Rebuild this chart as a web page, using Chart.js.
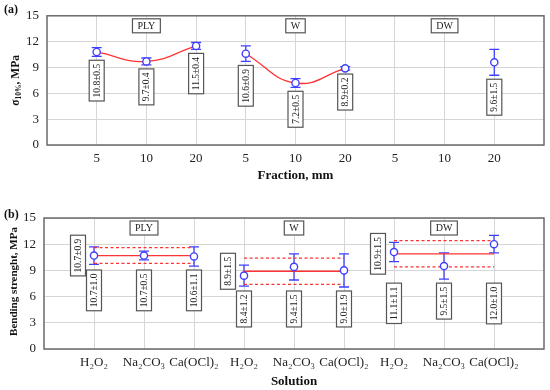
<!DOCTYPE html>
<html>
<head>
<meta charset="utf-8">
<script src="https://cdn.jsdelivr.net/npm/chart.js@4.4.1/dist/chart.umd.min.js"></script>
<style>
  body { margin: 0; background: #fff; }
  .panel { width: 550px; height: 195px; position: relative; }
</style>
</head>
<body>
<div class="panel"><canvas id="chart-a"></canvas></div>
<div class="panel"><canvas id="chart-b"></canvas></div>
<script>
"use strict";

// data
var groupNames = ["PLY", "W", "DW"];
var fractionLabels = ["5", "10", "20", "5", "10", "20", "5", "10", "20"];
var sigmaMean = [10.8, 9.7, 11.5, 10.6, 7.2, 8.9, null, null, 9.6];
var sigmaErr = [0.5, 0.4, 0.4, 0.9, 0.5, 0.2, null, null, 1.5];

var solutionLabels = ["H₂O₂", "Na₂CO₃", "Ca(OCl)₂", "H₂O₂", "Na₂CO₃", "Ca(OCl)₂", "H₂O₂", "Na₂CO₃", "Ca(OCl)₂"];
var bendMean = [10.7, 10.7, 10.6, 8.4, 9.4, 9.0, 11.1, 9.5, 12.0];
var bendErr = [1.0, 0.5, 1.1, 1.2, 1.5, 1.9, 1.1, 1.5, 1.0];
var groupMean = [10.7, 8.9, 10.9];
var groupSd = [0.9, 1.5, 1.5];

var yTicks = [0, 3, 6, 9, 12, 15];

// global
var SERIF = "'Liberation Serif', 'Times New Roman', serif";
Chart.defaults.font.family = SERIF;
Chart.defaults.color = "#333";

var BLUE = "#3f3fff";
var RED = "#ff3333";
var GRID = "#d6d6d6";
var FRAME = "#6a6a6a";

function fmt(m, e) {
  return m.toFixed(1) + "±" + e.toFixed(1);
}

function drawErrorBars(chart, means, errs) {
  var ctx = chart.ctx, xs = chart.scales.x, ys = chart.scales.y;
  ctx.save();
  ctx.strokeStyle = BLUE;
  ctx.lineWidth = 1.3;
  means.forEach(function (m, i) {
    if (m === null) return;
    var x = xs.getPixelForValue(i + 1);
    var top = ys.getPixelForValue(m + errs[i]);
    var bot = ys.getPixelForValue(m - errs[i]);
    ctx.beginPath();
    ctx.moveTo(x, top); ctx.lineTo(x, bot);
    ctx.moveTo(x - 5, top); ctx.lineTo(x + 5, top);
    ctx.moveTo(x - 5, bot); ctx.lineTo(x + 5, bot);
    ctx.stroke();
  });
  ctx.restore();
}

// vertical text in a box, cy = box centre
function vBox(ctx, text, cx, cy) {
  ctx.save();
  ctx.font = "9.5px " + SERIF;
  var w = ctx.measureText(text).width;
  var h = w + 7, bw = 15;
  ctx.fillStyle = "#fff";
  ctx.strokeStyle = "#555";
  ctx.lineWidth = 1.2;
  ctx.fillRect(cx - bw / 2, cy - h / 2, bw, h);
  ctx.strokeRect(cx - bw / 2, cy - h / 2, bw, h);
  ctx.translate(cx, cy);
  ctx.rotate(-Math.PI / 2);
  ctx.fillStyle = "#222";
  ctx.textAlign = "center";
  ctx.textBaseline = "middle";
  ctx.fillText(text, 0, 0.5);
  ctx.restore();
  return h;
}

function boxHeight(ctx, text) {
  ctx.save();
  ctx.font = "9.5px " + SERIF;
  var h = ctx.measureText(text).width + 7;
  ctx.restore();
  return h;
}

function groupBoxes(chart) {
  var ctx = chart.ctx, xs = chart.scales.x, area = chart.chartArea;
  ctx.save();
  ctx.font = "10px " + SERIF;
  groupNames.forEach(function (g, i) {
    var cx = xs.getPixelForValue(i * 3 + 2);
    var cy = area.top + 10;
    var w = ctx.measureText(g).width + 10;
    ctx.fillStyle = "#fff";
    ctx.strokeStyle = "#555";
    ctx.lineWidth = 1.2;
    ctx.fillRect(cx - w / 2, cy - 7, w, 14);
    ctx.strokeRect(cx - w / 2, cy - 7, w, 14);
    ctx.fillStyle = "#222";
    ctx.textAlign = "center";
    ctx.textBaseline = "middle";
    ctx.fillText(g, cx, cy + 0.5);
  });
  ctx.restore();
}

function frame(chart) {
  var ctx = chart.ctx, a = chart.chartArea;
  ctx.save();
  ctx.strokeStyle = FRAME;
  ctx.lineWidth = 1.5;
  ctx.strokeRect(a.left, a.top, a.right - a.left, a.bottom - a.top);
  ctx.restore();
}

function makeScales(labels, yWidth, xHeight, tickPad) {
  return {
    x: {
      type: "linear",
      min: 0,
      max: 10,
      border: { display: false },
      grid: {
        drawTicks: false,
        color: function (c) {
          return c.tick && c.tick.value >= 1 && c.tick.value <= 9 ? GRID : "rgba(0,0,0,0)";
        },
      },
      ticks: {
        stepSize: 1,
        autoSkip: false,
        maxRotation: 0,
        padding: tickPad,
        font: { size: 13 },
        color: "#222",
        callback: function (v) {
          return labels[v - 1] || "";
        },
      },
      afterFit: function (s) { s.height = xHeight; },
    },
    y: {
      min: 0,
      max: 15,
      border: { display: false },
      grid: { drawTicks: false, color: GRID },
      afterBuildTicks: function (s) {
        s.ticks = yTicks.map(function (v) { return { value: v }; });
      },
      ticks: { padding: 8, font: { size: 13 }, color: "#222" },
      afterFit: function (s) { s.width = yWidth; },
    },
  };
}

var pointStyle = {
  pointRadius: 3.6,
  pointBorderWidth: 1.4,
  pointBorderColor: BLUE,
  pointBackgroundColor: "#fff",
  showLine: false,
};

//chart-a
var aDatasets = [
  Object.assign({
    data: sigmaMean.map(function (m, i) { return m === null ? null : { x: i + 1, y: m }; })
      .filter(function (p) { return p; }),
  }, pointStyle),
];
groupNames.forEach(function (g, gi) {
  var pts = [];
  for (var k = 0; k < 3; k++) {
    var m = sigmaMean[gi * 3 + k];
    if (m !== null) pts.push({ x: gi * 3 + k + 1, y: m });
  }
  if (pts.length === 3) {
    aDatasets.push({
      data: pts,
      showLine: true,
      tension: 0.45,
      borderColor: RED,
      borderWidth: 1.3,
      pointRadius: 0,
    });
  }
});

var chartA = new Chart(document.getElementById("chart-a"), {
  type: "scatter",
  data: { datasets: aDatasets },
  options: {
    responsive: true,
    maintainAspectRatio: false,
    animation: false,
    layout: { padding: { top: 12, right: 5, left: 0, bottom: 0 } },
    plugins: { legend: { display: false }, tooltip: { enabled: false } },
    scales: makeScales(fractionLabels, 47, 50, 6),
  },
  plugins: [{
    id: "decorA",
    beforeDatasetsDraw: function (chart) {
      frame(chart);
      drawErrorBars(chart, sigmaMean, sigmaErr);
    },
    afterDraw: function (chart) {
      var ctx = chart.ctx, xs = chart.scales.x, ys = chart.scales.y;
      sigmaMean.forEach(function (m, i) {
        if (m === null) return;
        var t = fmt(m, sigmaErr[i]);
        var h = boxHeight(ctx, t);
        var top = ys.getPixelForValue(m - sigmaErr[i]) + 4;
        vBox(ctx, t, xs.getPixelForValue(i + 1), top + h / 2);
      });
      groupBoxes(chart);

      ctx.save();
      ctx.fillStyle = "#111";
      ctx.font = "bold 12px " + SERIF;
      ctx.textBaseline = "middle";
      ctx.fillText("(a)", 4, 10);
      ctx.textAlign = "center";
      ctx.font = "bold 13px " + SERIF;
      ctx.fillText("Fraction, mm", (chart.chartArea.left + chart.chartArea.right) / 2, 176);

      // y title with subscript
      ctx.translate(16, (chart.chartArea.top + chart.chartArea.bottom) / 2);
      ctx.rotate(-Math.PI / 2);
      ctx.textAlign = "left";
      var p1 = "σ", p2 = "10%", p3 = ", MPa";
      var big = "bold 11.5px " + SERIF, small = "bold 7.5px " + SERIF;
      ctx.font = big;
      var w1 = ctx.measureText(p1).width, w3 = ctx.measureText(p3).width;
      ctx.font = small;
      var w2 = ctx.measureText(p2).width;
      var x0 = -(w1 + w2 + w3) / 2;
      ctx.font = big;
      ctx.fillText(p1, x0, 0);
      ctx.font = small;
      ctx.fillText(p2, x0 + w1, 3.5);
      ctx.font = big;
      ctx.fillText(p3, x0 + w1 + w2, 0);
      ctx.restore();
    },
  }],
});

//chart-b
var bDatasets = [
  Object.assign({
    data: bendMean.map(function (m, i) { return { x: i + 1, y: m }; }),
  }, pointStyle),
];
groupNames.forEach(function (g, gi) {
  var x1 = gi * 3 + 1, x2 = gi * 3 + 3;
  var m = groupMean[gi], sd = groupSd[gi];
  bDatasets.push({
    data: [{ x: x1, y: m }, { x: x2, y: m }],
    showLine: true, borderColor: RED, borderWidth: 1.3, pointRadius: 0,
  });
  [m + sd, m - sd].forEach(function (v) {
    bDatasets.push({
      data: [{ x: x1, y: v }, { x: x2, y: v }],
      showLine: true, borderColor: RED, borderWidth: 1.2, borderDash: [3, 2.5], pointRadius: 0,
    });
  });
});

var chartB = new Chart(document.getElementById("chart-b"), {
  type: "scatter",
  data: { datasets: bDatasets },
  options: {
    responsive: true,
    maintainAspectRatio: false,
    animation: false,
    layout: { padding: { top: 23, right: 6, left: 0, bottom: 0 } },
    plugins: { legend: { display: false }, tooltip: { enabled: false } },
    scales: makeScales(solutionLabels, 44, 41, 6),
  },
  plugins: [{
    id: "decorB",
    beforeDatasetsDraw: function (chart) {
      frame(chart);
      drawErrorBars(chart, bendMean, bendErr);
    },
    afterDraw: function (chart) {
      var ctx = chart.ctx, xs = chart.scales.x, ys = chart.scales.y;
      groupNames.forEach(function (g, gi) {
        // individual labels aligned per group under the lowest error bar
        var top = 0;
        for (var k = 0; k < 3; k++) {
          var i = gi * 3 + k;
          top = Math.max(top, ys.getPixelForValue(bendMean[i] - bendErr[i]) + 4);
        }
        for (var k2 = 0; k2 < 3; k2++) {
          var j = gi * 3 + k2;
          var t = fmt(bendMean[j], bendErr[j]);
          vBox(ctx, t, xs.getPixelForValue(j + 1), top + boxHeight(ctx, t) / 2);
        }
        // group mean label left of first point
        vBox(ctx, fmt(groupMean[gi], groupSd[gi]),
          xs.getPixelForValue(gi * 3 + 1) - 16, ys.getPixelForValue(groupMean[gi]));
      });
      groupBoxes(chart);

      ctx.save();
      ctx.fillStyle = "#111";
      ctx.font = "bold 12px " + SERIF;
      ctx.textBaseline = "middle";
      ctx.fillText("(b)", 4, 20);
      ctx.textAlign = "center";
      ctx.font = "bold 13px " + SERIF;
      ctx.fillText("Solution", (chart.chartArea.left + chart.chartArea.right) / 2, 187);
      ctx.translate(14, (chart.chartArea.top + chart.chartArea.bottom) / 2 - 2);
      ctx.rotate(-Math.PI / 2);
      ctx.font = "bold 11px " + SERIF;
      ctx.fillText("Bending strenght, MPa", 0, 0);
      ctx.restore();
    },
  }],
});
</script>
</body>
</html>
